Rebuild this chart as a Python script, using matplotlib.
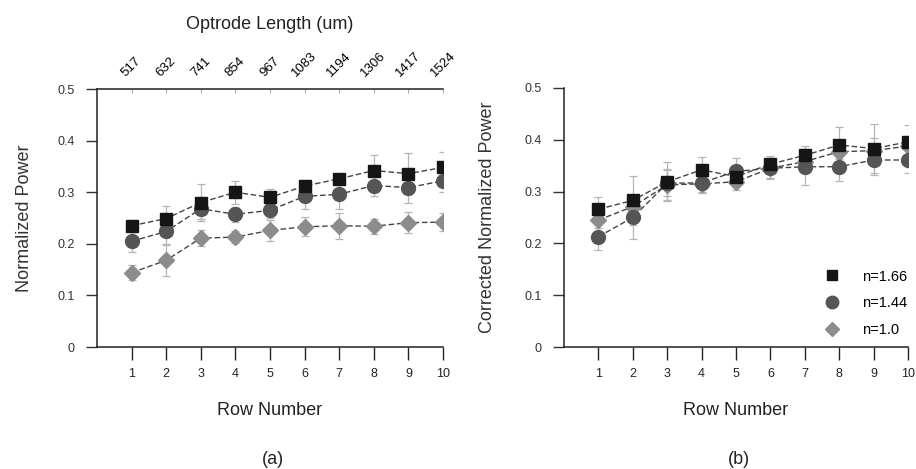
import numpy as np
import matplotlib.pyplot as plt

plt.rcParams['font.family'] = ['Liberation Sans', 'DejaVu Sans']

rows = [1, 2, 3, 4, 5, 6, 7, 8, 9, 10]
lengths = ['517', '632', '741', '854', '967', '1083', '1194', '1306', '1417', '1524']
labels = ['n=1.66', 'n=1.44', 'n=1.0']

# (a) normalized power
a_166 = [0.235, 0.249, 0.280, 0.300, 0.290, 0.312, 0.326, 0.342, 0.336, 0.348]
a_144 = [0.205, 0.224, 0.268, 0.257, 0.265, 0.292, 0.296, 0.313, 0.309, 0.322]
a_10 = [0.144, 0.168, 0.211, 0.213, 0.226, 0.233, 0.235, 0.234, 0.241, 0.242]
a_err166 = [0.012, 0.025, 0.035, 0.022, 0.016, 0.012, 0.010, 0.030, 0.040, 0.030]
a_err144 = [0.020, 0.025, 0.020, 0.015, 0.015, 0.025, 0.028, 0.020, 0.030, 0.022]
a_err10 = [0.015, 0.030, 0.015, 0.012, 0.020, 0.018, 0.025, 0.015, 0.020, 0.018]

# (b) corrected normalized power
b_166 = [0.266, 0.283, 0.319, 0.342, 0.329, 0.353, 0.370, 0.390, 0.383, 0.396]
b_144 = [0.213, 0.250, 0.316, 0.317, 0.339, 0.345, 0.348, 0.348, 0.361, 0.361]
b_10 = [0.245, 0.271, 0.313, 0.315, 0.319, 0.345, 0.358, 0.377, 0.379, 0.388]
b_err166 = [0.024, 0.047, 0.038, 0.024, 0.020, 0.015, 0.018, 0.034, 0.048, 0.032]
b_err144 = [0.026, 0.042, 0.025, 0.020, 0.025, 0.020, 0.035, 0.027, 0.029, 0.026]
b_err10 = [0.015, 0.020, 0.030, 0.015, 0.015, 0.018, 0.012, 0.015, 0.025, 0.020]

styles = [('s', '#151515', 8.6), ('o', '#555555', 10), ('D', '#8c8c8c', 8)]

fig = plt.figure(figsize=(9.16, 4.69), dpi=100)
ax1 = fig.add_axes([0.1059, 0.2601, 0.3777, 0.5501])
ax2 = fig.add_axes([0.6157, 0.2601, 0.3756, 0.5523])


def draw(ax, series, errs, ylabel, ylab_x):
    order = [2, 1, 0]
    for i in order:
        ax.errorbar(rows, series[i], yerr=errs[i], fmt='none', ecolor='#b5b5b5',
                    elinewidth=0.9, capsize=3, capthick=0.9, zorder=1)
    for i in order:
        m, c, ms = styles[i]
        ax.plot(rows, series[i], ls=(0, (4, 2)), color='#444444', lw=1.0, zorder=2)
        ax.plot(rows, series[i], ls='none', marker=m, color=c, ms=ms,
                markeredgecolor=c, label=labels[i], zorder=3)
    ax.set_xlim(0, 10)
    ax.set_ylim(0, 0.5)
    ax.set_xticks(rows)
    ax.set_yticks([0, 0.1, 0.2, 0.3, 0.4, 0.5])
    ax.set_yticklabels(['0', '0.1', '0.2', '0.3', '0.4', '0.5'])
    ax.tick_params(axis='y', direction='out', length=8, width=1, pad=8,
                   labelsize=9, colors='#333333')
    ax.tick_params(axis='x', direction='out', length=9, width=1, pad=6,
                   labelsize=9, colors='#222222')
    ax.spines['right'].set_visible(False)
    for s in ['left', 'bottom', 'top']:
        ax.spines[s].set_color('#222222')
        ax.spines[s].set_linewidth(1.1)
    ax.set_xlabel('Row Number', fontsize=13, labelpad=16, color='#222222')
    ax.set_ylabel(ylabel, fontsize=13, color='#333333')
    ax.yaxis.set_label_coords(ylab_x, 0.5)


draw(ax1, [a_166, a_144, a_10], [a_err166, a_err144, a_err10], 'Normalized Power', -0.185)
draw(ax2, [b_166, b_144, b_10], [b_err166, b_err144, b_err10], 'Corrected Normalized Power', -0.197)
ax2.spines['top'].set_visible(False)

# top axis with optrode lengths
top = ax1.secondary_xaxis('top')
top.set_xticks(rows)
top.set_xticklabels(lengths, rotation=45, ha='center', va='bottom', fontsize=9.5)
top.tick_params(direction='in', length=3, color='#aaaaaa', pad=7)
top.spines['top'].set_visible(False)
top.set_xlabel('Optrode Length (um)', fontsize=13, labelpad=15, color='#222222')

h, l = ax2.get_legend_handles_labels()
ax2.legend(h[::-1], l[::-1], loc='upper left', frameon=False, fontsize=10.5,
           handletextpad=1.36, labelspacing=0.88, handlelength=1.4,
           borderpad=0, borderaxespad=0, markerscale=0.9,
           bbox_to_anchor=(0.8972, 0.4253), bbox_transform=fig.transFigure)

fig.text(0.2975, 0.0213, '(a)', ha='center', va='center', fontsize=13, color='#222222')
fig.text(0.8068, 0.0213, '(b)', ha='center', va='center', fontsize=13, color='#222222')

fig.savefig('out.png', dpi=100)
